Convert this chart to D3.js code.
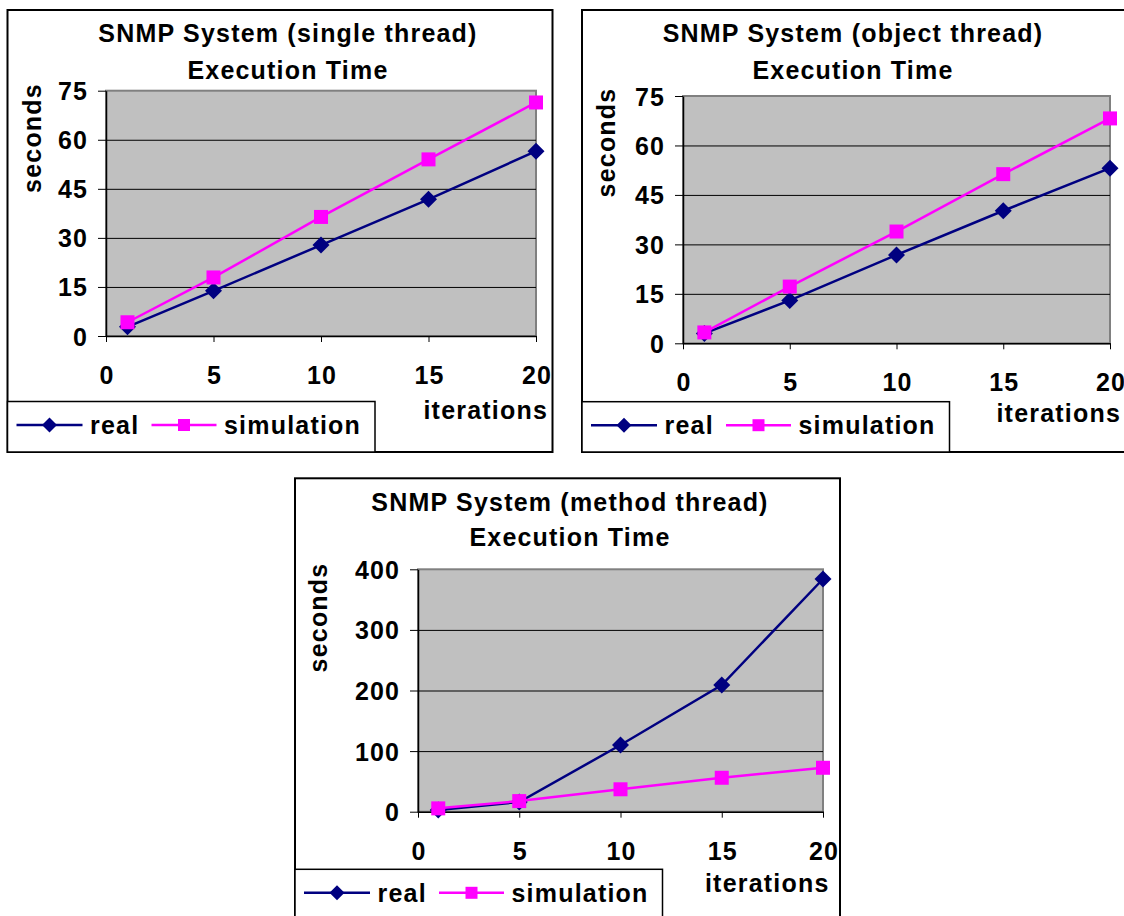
<!DOCTYPE html>
<html>
<head>
<meta charset="utf-8">
<script src="https://cdn.jsdelivr.net/npm/d3@7"></script>
<style>
  html, body { margin: 0; padding: 0; background: #fff; }
  svg { display: block; }
  text { font-family: "Liberation Sans", Arial, sans-serif; font-weight: bold; font-size: 25px; letter-spacing: 1.2px; fill: #000; }
</style>
</head>
<body>
<svg id="chart" width="1124" height="916"></svg>
<script>
// ---- data ----
const iterations = [1, 5, 10, 15, 20];
const xTickValues = [0, 5, 10, 15, 20];
const yTicksSeconds = [0, 15, 30, 45, 60, 75];
const yTicksMethod = [0, 100, 200, 300, 400];
const seriesNames = ["real", "simulation"];

const singleReal = [2.8, 13.8, 27.8, 41.8, 56.5];
const singleSim  = [4.2, 17.9, 36.4, 54.0, 71.4];
const objectReal = [3.0, 13.0, 26.8, 40.2, 53.1];
const objectSim  = [3.3, 17.2, 33.9, 51.3, 68.2];
const methodReal = [3.0, 16.0, 110.0, 209.0, 384.0];
const methodSim  = [5.5, 17.5, 37.0, 56.0, 72.5];

const titleSingle = ["SNMP System (single thread)", "Execution Time"];
const titleObject = ["SNMP System (object thread)", "Execution Time"];
const titleMethod = ["SNMP System (method thread)", "Execution Time"];
const yAxisTitle = "seconds";
const xAxisTitle = "iterations";

// ---- layout / style ----
const colors = { real: "#000080", simulation: "#FF00FF" };

const charts = [
  { title: titleSingle, real: singleReal, sim: singleSim, yTicks: yTicksSeconds, yMax: 75,
    box: [7.5, 10, 545, 442], plot: [106, 90.7, 536, 336],
    titleX: 288, titleY: [42.3, 79], secX: 32, secY: 138, itX: 548, itY: 419,
    legend: [7.5, 401.5, 367.5, 50.5] },
  { title: titleObject, real: objectReal, sim: objectSim, yTicks: yTicksSeconds, yMax: 75,
    box: [582, 10, 560, 442], plot: [683, 96, 1110, 343.3],
    titleX: 853, titleY: [42.3, 79], secX: 606, secY: 142.5, itX: 1121, itY: 422,
    legend: [582, 401.7, 367.5, 50.3] },
  { title: titleMethod, real: methodReal, sim: methodSim, yTicks: yTicksMethod, yMax: 400,
    box: [295, 478.3, 545, 460], plot: [418, 569.3, 823, 811.7],
    titleX: 570, titleY: [510.7, 545.7], secX: 318.3, secY: 617.5, itX: 829.5, itY: 892.3,
    legend: [295, 869.3, 367.5, 60] }
];

const svg = d3.select("#chart");

function diamondPath(r) { return `M0,${-r}L${r},0L0,${r}L${-r},0Z`; }
function squarePath(s) { const h = s / 2; return `M${-h},${-h}H${h}V${h}H${-h}Z`; }

charts.forEach(c => {
  const g = svg.append("g");
  const [bx, by, bw, bh] = c.box;
  g.append("rect").attr("x", bx).attr("y", by).attr("width", bw).attr("height", bh)
    .attr("fill", "#fff").attr("stroke", "#000").attr("stroke-width", 2);

  const [pl, pt, pr, pb] = c.plot;
  const x = d3.scaleLinear().domain([0, 20]).range([pl, pr]);
  const y = d3.scaleLinear().domain([0, c.yMax]).range([pb, pt]);

  // plot area
  g.append("rect").attr("x", pl).attr("y", pt).attr("width", pr - pl).attr("height", pb - pt)
    .attr("fill", "#C0C0C0").attr("stroke", "#808080").attr("stroke-width", 2);

  // gridlines
  g.append("g").attr("transform", `translate(${pl},0)`)
    .call(d3.axisLeft(y).tickValues(c.yTicks.slice(1, -1)).tickSize(-(pr - pl)).tickFormat(""))
    .call(s => s.select(".domain").remove())
    .call(s => s.selectAll("line").attr("stroke", "#000").attr("stroke-width", 1));

  // y axis
  const ya = g.append("g").attr("transform", `translate(${pl},0)`)
    .call(d3.axisLeft(y).tickValues(c.yTicks).tickSize(8).tickSizeOuter(0));
  ya.select(".domain").attr("stroke", "#000").attr("stroke-width", 1.5);
  ya.selectAll("line").attr("stroke", "#000").attr("stroke-width", 1);
  ya.selectAll("text").attr("x", -17.8).attr("dy", "0.36em");
  ya.attr("font-family", null).attr("font-size", null);

  // x axis
  const xa = g.append("g").attr("transform", `translate(0,${pb})`)
    .call(d3.axisBottom(x).tickValues(xTickValues).tickSize(6).tickSizeOuter(0));
  xa.select(".domain").attr("stroke", "#000").attr("stroke-width", 1.5);
  xa.selectAll("line").attr("stroke", "#000").attr("stroke-width", 1);
  xa.selectAll("text").attr("y", 48).attr("dy", null).attr("dx", "0.6px");
  xa.attr("font-family", null).attr("font-size", null);

  // series
  const line = d3.line().x((d, i) => x(iterations[i])).y(d => y(d));
  [["real", c.real], ["simulation", c.sim]].forEach(([name, vals]) => {
    g.append("path").datum(vals).attr("d", line).attr("fill", "none")
      .attr("stroke", colors[name]).attr("stroke-width", 2.5);
    g.selectAll(null).data(vals).enter().append("path")
      .attr("transform", (d, i) => `translate(${x(iterations[i])},${y(d)})`)
      .attr("d", name === "real" ? diamondPath(8.5) : squarePath(14))
      .attr("fill", colors[name]);
  });

  // titles
  c.title.forEach((t, i) => {
    g.append("text").attr("x", c.titleX).attr("y", c.titleY[i]).attr("text-anchor", "middle").text(t);
  });
  g.append("text").attr("transform", `translate(${c.secX + 9},${c.secY}) rotate(-90)`)
    .attr("text-anchor", "middle").text(yAxisTitle);
  g.append("text").attr("x", c.itX).attr("y", c.itY).attr("text-anchor", "end").text(xAxisTitle);

  // legend
  const [lx, ly, lw, lh] = c.legend;
  g.append("rect").attr("x", lx).attr("y", ly).attr("width", lw).attr("height", lh)
    .attr("fill", "#fff").attr("stroke", "#000").attr("stroke-width", 1.5);
  const cy = ly + 23.5;
  const items = [
    { name: seriesNames[0], x0: lx + 9, x1: lx + 75, tx: lx + 82.5 },
    { name: seriesNames[1], x0: lx + 144, x1: lx + 209, tx: lx + 216.5 }
  ];
  items.forEach(it => {
    g.append("line").attr("x1", it.x0).attr("x2", it.x1).attr("y1", cy).attr("y2", cy)
      .attr("stroke", colors[it.name]).attr("stroke-width", 2.5);
    g.append("path").attr("transform", `translate(${(it.x0 + it.x1) / 2},${cy})`)
      .attr("d", it.name === "real" ? diamondPath(7.5) : squarePath(12))
      .attr("fill", colors[it.name]);
    g.append("text").attr("x", it.tx).attr("y", cy + 9).text(it.name);
  });
});
</script>
</body>
</html>
